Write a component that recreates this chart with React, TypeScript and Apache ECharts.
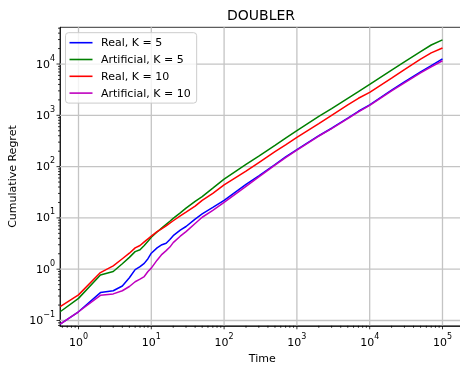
import React, { useEffect, useRef } from "react";
import * as echarts from "echarts";

const times = [0.56, 1, 2, 3, 4, 5, 6, 7, 8, 9, 10, 12, 14, 16, 18, 20, 25, 30, 40, 50, 70, 100, 200, 300, 500, 700, 1000, 2000, 3000, 5000, 7000, 10000, 20000, 30000, 50000, 70000, 100000];

const realK5 = [0.085, 0.148, 0.35, 0.38, 0.47, 0.68, 0.98, 1.12, 1.3, 1.6, 2.05, 2.6, 3.0, 3.2, 3.8, 4.5, 5.8, 6.8, 9.5, 12, 16, 22, 45, 66, 110, 155, 214, 400, 560, 880, 1200, 1600, 3100, 4500, 7000, 9300, 12600];
const artificialK5 = [0.148, 0.27, 0.77, 0.9, 1.28, 1.7, 2.2, 2.4, 2.9, 3.5, 4.2, 5.3, 6.4, 7.5, 8.6, 9.8, 12.5, 15.5, 21, 26, 38, 57, 110, 160, 260, 360, 505, 950, 1350, 2150, 2900, 4000, 7600, 11000, 17500, 23500, 29500];
const realK10 = [0.187, 0.316, 0.86, 1.16, 1.6, 2.05, 2.6, 2.9, 3.4, 3.9, 4.4, 5.4, 6.2, 7.0, 7.9, 8.8, 11, 13, 17, 22, 30, 44, 82, 120, 195, 265, 370, 690, 1000, 1600, 2150, 2800, 5300, 7800, 12500, 16500, 20500];
const artificialK10 = [0.085, 0.148, 0.31, 0.33, 0.38, 0.46, 0.57, 0.64, 0.72, 0.9, 1.05, 1.5, 1.95, 2.3, 2.7, 3.3, 4.4, 5.4, 7.8, 10.3, 14, 20, 41, 63, 107, 150, 210, 395, 550, 860, 1170, 1560, 3000, 4300, 6700, 8800, 11600];

const seriesNames = ["Real, K = 5", "Artificial, K = 5", "Real, K = 10", "Artificial, K = 10"];
const seriesColors = ["#0000ff", "#008000", "#ff0000", "#bf00bf"];
const seriesValues = [realK5, artificialK5, realK10, artificialK10];

const xMajorTicks = [1, 10, 100, 1000, 10000, 100000];
const yMajorTicks = [0.1, 1, 10, 100, 1000, 10000];
const minorMultipliers = [2, 3, 4, 5, 6, 7, 8, 9];

const X_MIN = 0.557;
const X_MAX = 200000;
const Y_MIN = 0.0788;
const Y_MAX = 52000;

const FONT = "DejaVu Sans";

function minorTicks(majors: number[], lo: number, hi: number): number[] {
  const out: number[] = [];
  const decades = [majors[0] / 10, ...majors];
  decades.forEach((d) => {
    minorMultipliers.forEach((m) => {
      const v = d * m;
      if (v > lo && v < hi) out.push(v);
    });
  });
  return out;
}

function powLabel(v: number): string {
  const l = Math.log10(v);
  const e = Math.round(l);
  if (Math.abs(l - e) > 1e-6) return "";
  const s = e < 0 ? "\u2212" + -e : String(e);
  return `{b|10}{s|${s}}`;
}

const richLabel = {
  b: { fontSize: 11, fontFamily: FONT, color: "#000" },
  s: { fontSize: 8, fontFamily: FONT, color: "#000", padding: [0, 0, 12, 0] },
};

export default function App() {
  const ref = useRef<HTMLDivElement>(null);
  useEffect(() => {
    if (!ref.current) return;
    const chart = echarts.init(ref.current, null, { renderer: "svg" });

    const xMinor = minorTicks(xMajorTicks, X_MIN, X_MAX);
    const yMinor = minorTicks(yMajorTicks, Y_MIN, Y_MAX);

    const gridRender = (params: any, api: any) => {
      const children: any[] = [];
      const bl = api.coord([X_MIN, Y_MIN]);
      const tr = api.coord([X_MAX, Y_MAX]);
      xMajorTicks.forEach((v) => {
        const p = api.coord([v, Y_MIN]);
        children.push({ type: "line", shape: { x1: p[0], y1: bl[1], x2: p[0], y2: tr[1] }, style: { stroke: "#c4c4c4", lineWidth: 1.3 } });
      });
      yMajorTicks.forEach((v) => {
        const p = api.coord([X_MIN, v]);
        children.push({ type: "line", shape: { x1: bl[0], y1: p[1], x2: tr[0], y2: p[1] }, style: { stroke: "#c4c4c4", lineWidth: 1.3 } });
      });
      return { type: "group", children };
    };

    const tickRender = (params: any, api: any) => {
      const children: any[] = [];
      const bl = api.coord([X_MIN, Y_MIN]);
      const addX = (v: number, len: number) => {
        const p = api.coord([v, Y_MIN]);
        children.push({ type: "line", shape: { x1: p[0], y1: bl[1], x2: p[0], y2: bl[1] + len }, style: { stroke: "#000", lineWidth: 0.8 } });
      };
      const addY = (v: number, len: number) => {
        const p = api.coord([X_MIN, v]);
        children.push({ type: "line", shape: { x1: bl[0], y1: p[1], x2: bl[0] - len, y2: p[1] }, style: { stroke: "#000", lineWidth: 0.8 } });
      };
      xMajorTicks.forEach((v) => addX(v, 3.5));
      xMinor.forEach((v) => addX(v, 2));
      yMajorTicks.forEach((v) => addY(v, 3.5));
      yMinor.forEach((v) => addY(v, 2));
      return { type: "group", children };
    };

    const lineSeries = seriesNames.map((name, i) => ({
      name,
      type: "line",
      data: times.map((t, j) => [t, seriesValues[i][j]]),
      showSymbol: false,
      symbol: "none",
      color: seriesColors[i],
      lineStyle: { color: seriesColors[i], width: 1.5 },
      z: 3,
    }));

    const axisCommon = {
      type: "log",
      logBase: 10,
      axisTick: { show: false },
      splitLine: { show: false },
      minorTick: { show: false },
      axisLine: { show: true, lineStyle: { color: "#000", width: 0.8 } },
    };

    chart.setOption({
      animation: false,
      textStyle: { fontFamily: FONT },
      grid: {
        left: 60,
        top: 27.3,
        width: 404.4,
        height: 298.5,
        show: true,
        borderColor: "#000",
        borderWidth: 0.8,
        backgroundColor: "#fff",
        containLabel: false,
        outerBoundsMode: "none",
      },
      graphic: [
        {
          type: "text",
          x: 261,
          y: 15,
          style: { text: "DOUBLER", font: `14px '${FONT}'`, fill: "#000", align: "center", verticalAlign: "middle", textAlign: "center", textVerticalAlign: "middle" },
        },
      ],
      legend: {
        data: seriesNames,
        orient: "vertical",
        left: 65.5,
        top: 32.7,
        icon: "rect",
        itemWidth: 23,
        itemHeight: 1.6,
        itemGap: 2.8,
        itemStyle: { borderWidth: 0 },
        padding: [3, 6, 3, 4],
        backgroundColor: "rgba(255,255,255,0.8)",
        borderColor: "#cccccc",
        borderWidth: 1,
        borderRadius: 3,
        textStyle: { fontSize: 11, lineHeight: 14, fontFamily: FONT, color: "#000", padding: [0, 0, 0, 3.5] },
      },
      xAxis: [
        {
          ...axisCommon,
          min: X_MIN,
          max: X_MAX,
          position: "bottom",
          name: "Time",
          nameLocation: "middle",
          nameGap: 26,
          nameTextStyle: { fontSize: 11, fontFamily: FONT, color: "#000" },
          axisLabel: { formatter: powLabel, rich: richLabel, margin: 7, showMinLabel: false, showMaxLabel: false },
        },
      ],
      yAxis: [
        {
          ...axisCommon,
          min: Y_MIN,
          max: Y_MAX,
          name: "Cumulative Regret",
          nameLocation: "middle",
          nameGap: 40,
          nameTextStyle: { fontSize: 11, fontFamily: FONT, color: "#000" },
          axisLabel: { formatter: powLabel, rich: richLabel, margin: 5, showMinLabel: false, showMaxLabel: false },
        },
      ],
      series: [
        { type: "custom", renderItem: gridRender, data: [[1, 1]], silent: true, z: 1, clip: false },
        ...lineSeries,
        { type: "custom", renderItem: tickRender, data: [[1, 1]], silent: true, z: 4, clip: false },
      ],
    });
    return () => chart.dispose();
  }, []);
  return <div ref={ref} style={{ position: "fixed", left: 0, top: 0, width: 460, height: 367 }} />;
}
